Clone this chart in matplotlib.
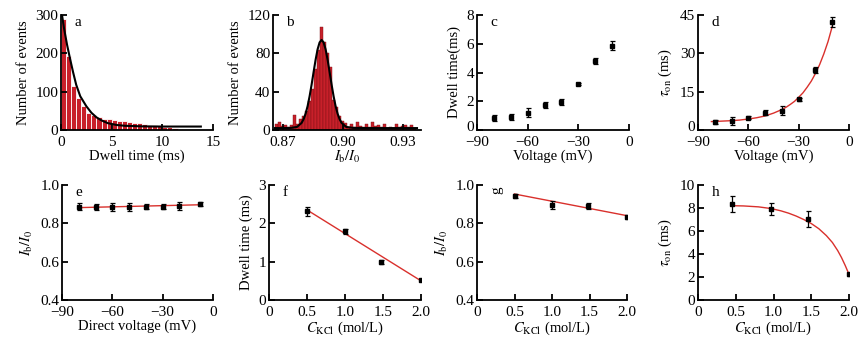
import numpy as np
import matplotlib
matplotlib.use("Agg")
import matplotlib.pyplot as plt
from matplotlib.transforms import ScaledTranslation

plt.rcParams['font.family'] = ['Liberation Serif', 'DejaVu Serif']
plt.rcParams['mathtext.fontset'] = 'stix'

# ---- data ----
# a: dwell time histogram (bin width 0.5 ms) + exponential fit
a_edges = np.arange(0, 12.01, 0.5)
a_counts = [290, 194, 115, 84, 62, 45, 40, 35, 30, 28, 26, 24,
            23, 21, 19, 17, 16, 14, 12, 10, 9, 7, 4, 2]
a_fit_x = [0.1, 0.3, 0.6, 0.9, 1.2, 1.5, 1.9, 2.5, 3.0, 3.5, 4.0, 4.6,
           5.5, 6.3, 8.0, 10.0, 13.8]
a_fit_y = [300, 265, 222, 185, 150, 118, 88, 62, 45, 33, 25, 18,
           13, 11, 9.5, 9, 9]

# b: Ib/I0 histogram (bin width 0.0015) + gaussian fit
b_start = 0.866
b_width = 0.0015
b_counts = [6, 8, 4, 5, 3, 5, 16, 6, 12, 15, 20, 30, 43, 64, 83, 108,
            92, 80, 66, 31, 24, 15, 9, 7, 3, 6, 3, 8, 4, 3, 6, 3,
            8, 4, 5, 3, 6, 2, 3, 2, 6, 3, 4, 5, 3, 5, 2]
b_fit_x = [0.866, 0.870, 0.874, 0.877, 0.8793, 0.8803, 0.8813, 0.8823,
           0.8833, 0.8843, 0.8853, 0.8863, 0.8873, 0.8883, 0.8893,
           0.8903, 0.8913, 0.8923, 0.8933, 0.8943, 0.8953, 0.8963,
           0.8973, 0.8983, 0.8993, 0.9016, 0.905, 0.912, 0.925, 0.937]
b_fit_y = [2, 2, 2.2, 3.2, 7.4, 11.3, 17, 24.9, 35.2, 47.3, 60.5, 73.3,
           84.2, 91.4, 94, 91.4, 84.2, 73.3, 60.5, 47.3, 35.2, 24.9,
           17, 11.3, 7.4, 3.2, 2.2, 2, 2, 2]

# c: dwell time vs voltage
volt = [-80, -70, -60, -50, -40, -30, -20, -10]
c_dwell = [0.81, 0.93, 1.2, 1.72, 1.93, 3.2, 4.78, 5.87]
c_err = [0.2, 0.2, 0.3, 0.2, 0.2, 0.1, 0.2, 0.3]

# d: tau_on vs voltage + exponential fit
d_tau = [3.2, 3.4, 4.8, 6.8, 7.5, 12.0, 23.5, 42.4]
d_err = [0.8, 1.5, 0.5, 1.0, 1.8, 0.5, 1.2, 2.0]
d_fit_x = [-82, -80, -75, -70, -65, -60, -55, -50, -45, -40, -37.5, -35,
           -32.5, -30, -27.5, -25, -22.5, -20, -17.5, -15, -12.5, -10]
d_fit_y = [3.3, 3.35, 3.5, 3.65, 3.9, 4.3, 4.8, 5.5, 6.6, 8.0, 8.9, 10.0,
           11.2, 12.8, 14.5, 16.7, 19.1, 22.1, 25.6, 29.8, 34.6, 40.5]

# e: Ib/I0 vs direct voltage
e_volt = [-80, -70, -60, -50, -40, -30, -20, -8]
e_ratio = [0.887, 0.884, 0.884, 0.884, 0.887, 0.887, 0.89, 0.899]
e_err = [0.02, 0.015, 0.02, 0.02, 0.012, 0.012, 0.02, 0.01]
e_line_x = [-80, -7]
e_line_y = [0.882, 0.897]

# f, g, h: vs KCl concentration
kcl = [0.5, 1.0, 1.48, 2.0]
f_dwell = [2.31, 1.79, 0.99, 0.52]
f_err = [0.12, 0.07, 0.05, 0.03]
f_line_x = [0.5, 2.0]
f_line_y = [2.35, 0.5]

g_ratio = [0.943, 0.896, 0.89, 0.831]
g_err = [0.01, 0.02, 0.015, 0.01]
g_line_x = [0.5, 2.0]
g_line_y = [0.953, 0.840]

h_kcl = [0.45, 0.97, 1.46, 2.0]
h_tau = [8.35, 7.9, 7.05, 2.23]
h_err = [0.7, 0.5, 0.7, 0.1]
h_fit_x = [0.45, 0.6, 0.8, 0.97, 1.1, 1.2, 1.3, 1.4, 1.5, 1.6, 1.7,
           1.78, 1.85, 1.9, 1.95, 2.0]
h_fit_y = [8.2, 8.18, 8.1, 7.95, 7.75, 7.55, 7.3, 7.0, 6.65, 6.2, 5.6,
           5.0, 4.3, 3.7, 3.0, 2.23]

bar_red = '#c8202a'
fit_red = '#d9302c'

fig = plt.figure(figsize=(8.68, 3.43), dpi=100)
W, H = 868.0, 343.0


def make_ax(left, top, width, bottom):
    ax = fig.add_axes([left / W, 1 - bottom / H, width / W, (bottom - top) / H])
    for s in ['top', 'right']:
        ax.spines[s].set_visible(False)
    for s in ['left', 'bottom']:
        ax.spines[s].set_linewidth(1.3)
    ax.tick_params(direction='in', length=4, width=1.3, labelsize=11, pad=2)
    ax.tick_params(axis='x', pad=4.5)
    return ax


def lift_zero(ax):
    # the bottom y label sits a bit higher, clear of the "-90" below it
    lab = ax.yaxis.get_major_ticks()[0].label1
    lab.set_transform(lab.get_transform() + ScaledTranslation(0, 3 / 72, fig.dpi_scale_trans))


def letter(ax, s, rot=0):
    ax.text(0.09, 0.99, s, transform=ax.transAxes, fontsize=11,
            va='top', ha='left', rotation=rot)


def points(ax, x, y, err):
    ax.errorbar(x, y, yerr=err, fmt='s', color='black', ms=3.5,
                capsize=1.8, elinewidth=0.9, capthick=0.9, zorder=3)


# a
ax = make_ax(61, 15, 152, 130)
ax.bar(a_edges[:-1], a_counts, width=0.5, align='edge', color=bar_red,
       edgecolor='white', linewidth=0.6)
ax.plot(a_fit_x, a_fit_y, color='black', lw=1.5)
ax.set_xlim(0, 15)
ax.set_ylim(0, 300)
ax.set_xticks([0, 5, 10, 15])
ax.set_yticks([0, 100, 200, 300])
ax.set_xlabel('Dwell time (ms)', fontsize=10.5, labelpad=0)
ax.set_ylabel('Number of events', fontsize=10.5)
letter(ax, 'a')

# b
ax = make_ax(273, 15, 148, 130)
b_left = [b_start + i * b_width for i in range(len(b_counts))]
ax.bar(b_left, b_counts, width=b_width, align='edge', color=bar_red,
       edgecolor='#7a0f14', linewidth=0.3)
ax.plot(b_fit_x, b_fit_y, color='black', lw=1.5)
ax.set_xlim(0.865, 0.939)
ax.set_ylim(0, 120)
ax.set_xticks([0.87, 0.90, 0.93])
ax.set_xticklabels(['0.87', '0.90', '0.93'])
ax.set_yticks([0, 40, 80, 120])
ax.set_xlabel(r'$I_{\rm b}/I_0$', fontsize=10.5, labelpad=0)
ax.set_ylabel('Number of events', fontsize=10.5)
letter(ax, 'b')

# c
ax = make_ax(477, 15, 152, 130)
points(ax, volt, c_dwell, c_err)
ax.set_xlim(-90, 0)
ax.set_ylim(0, 8)
ax.set_xticks([-90, -60, -30, 0])
ax.set_yticks([0, 2, 4, 6, 8])
ax.set_xlabel('Voltage (mV)', fontsize=10.5, labelpad=0)
ax.set_ylabel('Dwell time(ms)', fontsize=10.5)
lift_zero(ax)
letter(ax, 'c')

# d
ax = make_ax(698, 15, 151, 130)
ax.plot(d_fit_x, d_fit_y, color=fit_red, lw=1.0, zorder=2)
points(ax, volt, d_tau, d_err)
ax.set_xlim(-90, 0)
ax.set_ylim(0, 45)
ax.set_xticks([-90, -60, -30, 0])
ax.set_yticks([0, 15, 30, 45])
ax.set_xlabel('Voltage (mV)', fontsize=10.5, labelpad=0)
ax.set_ylabel(r'$\tau_{\rm on}$ (ms)', fontsize=10.5)
lift_zero(ax)
letter(ax, 'd')

# e
ax = make_ax(62, 185, 151, 300)
ax.plot(e_line_x, e_line_y, color=fit_red, lw=1.0, zorder=2)
points(ax, e_volt, e_ratio, e_err)
ax.set_xlim(-90, 0)
ax.set_ylim(0.4, 1.0)
ax.set_xticks([-90, -60, -30, 0])
ax.set_yticks([0.4, 0.6, 0.8, 1.0])
ax.set_yticklabels(['0.4', '0.6', '0.8', '1.0'])
ax.set_xlabel('Direct voltage (mV)', fontsize=10.5, labelpad=0)
ax.set_ylabel(r'$I_{\rm b}/I_0$', fontsize=10.5)
letter(ax, 'e')

# f
ax = make_ax(269, 185, 152, 300)
ax.plot(f_line_x, f_line_y, color=fit_red, lw=1.0, zorder=2)
points(ax, kcl, f_dwell, f_err)
ax.set_xlim(0, 2.0)
ax.set_ylim(0, 3)
ax.set_xticks([0, 0.5, 1.0, 1.5, 2.0])
ax.set_xticklabels(['0', '0.5', '1.0', '1.5', '2.0'])
ax.set_yticks([0, 1, 2, 3])
ax.set_xlabel(r'$C_{\rm KCl}$ (mol/L)', fontsize=10.5, labelpad=0)
ax.set_ylabel('Dwell time (ms)', fontsize=10.5)
letter(ax, 'f')

# g
ax = make_ax(477, 185, 150, 300)
ax.plot(g_line_x, g_line_y, color=fit_red, lw=1.0, zorder=2)
points(ax, kcl, g_ratio, g_err)
ax.set_xlim(0, 2.0)
ax.set_ylim(0.4, 1.0)
ax.set_xticks([0, 0.5, 1.0, 1.5, 2.0])
ax.set_xticklabels(['0', '0.5', '1.0', '1.5', '2.0'])
ax.set_yticks([0.4, 0.6, 0.8, 1.0])
ax.set_yticklabels(['0.4', '0.6', '0.8', '1.0'])
ax.set_xlabel(r'$C_{\rm KCl}$ (mol/L)', fontsize=10.5, labelpad=0)
ax.set_ylabel(r'$I_{\rm b}/I_0$', fontsize=10.5)
letter(ax, 'g', rot=90)

# h
ax = make_ax(698, 185, 151, 300)
ax.plot(h_fit_x, h_fit_y, color=fit_red, lw=1.0, zorder=2)
points(ax, h_kcl, h_tau, h_err)
ax.set_xlim(0, 2.0)
ax.set_ylim(0, 10)
ax.set_xticks([0, 0.5, 1.0, 1.5, 2.0])
ax.set_xticklabels(['0', '0.5', '1.0', '1.5', '2.0'])
ax.set_yticks([0, 2, 4, 6, 8, 10])
ax.set_xlabel(r'$C_{\rm KCl}$ (mol/L)', fontsize=10.5, labelpad=0)
ax.set_ylabel(r'$\tau_{\rm on}$ (ms)', fontsize=10.5)
letter(ax, 'h')

fig.savefig('out.png', dpi=100)
